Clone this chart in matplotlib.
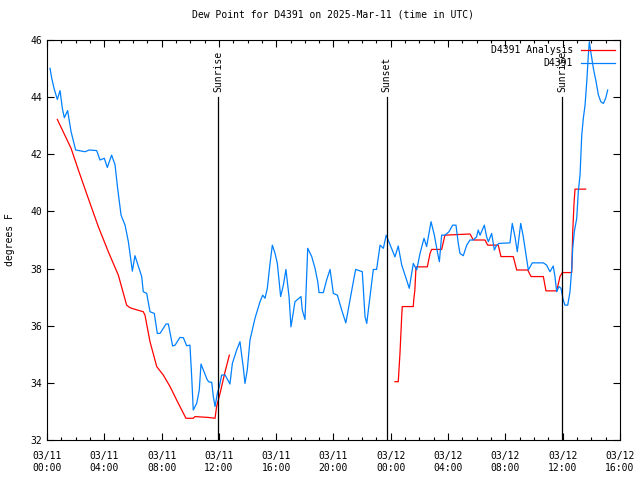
import numpy as np
import pandas as pd
import matplotlib
matplotlib.use("Agg")
import matplotlib.pyplot as plt
import matplotlib.dates as mdates

# hours after 2025-03-11 00:00 UTC, dew point in F
obs_hours = [0.21, 0.33, 0.49, 0.72, 0.91, 1.07, 1.21, 1.44, 1.68, 2.0, 2.65, 2.95, 3.47, 3.70,
             4.0, 4.21, 4.51, 4.75, 4.93, 5.17, 5.45, 5.68, 5.96, 6.14, 6.61, 6.72, 6.96, 7.19,
             7.49, 7.70, 7.89, 8.31, 8.47, 8.77, 8.94, 9.28, 9.52, 9.75, 9.98, 10.1, 10.21, 10.45,
             10.63, 10.75, 10.96, 11.19, 11.31, 11.5, 11.61, 11.73, 11.89, 12.03, 12.19, 12.43,
             12.77, 12.94, 13.24, 13.47, 13.71, 13.82, 13.98, 14.17, 14.52, 14.87, 15.06, 15.22,
             15.38, 15.57, 15.73, 15.92, 16.08, 16.31, 16.5, 16.68, 16.9, 17.03, 17.13, 17.31,
             17.73, 17.82, 18.01, 18.2, 18.48, 18.71, 18.9, 18.99, 19.29, 19.52, 19.76, 19.99,
             20.27, 20.57, 20.86, 21.15, 21.45, 21.55, 22.01, 22.2, 22.32, 22.55, 22.78, 23.01,
             23.25, 23.48, 23.68, 23.91, 24.29, 24.52, 24.76, 25.06, 25.29, 25.57, 25.81, 26.04,
             26.32, 26.5, 26.81, 27.04, 27.25, 27.39, 27.55, 27.78, 28.06, 28.32, 28.55, 28.71,
             28.83, 29.06, 29.3, 29.53, 29.76, 29.99, 30.1, 30.23, 30.53, 30.69, 30.81, 31.04,
             31.23, 31.39, 31.55, 32.32, 32.48, 32.67, 32.83, 33.07, 33.25, 33.37, 33.49, 33.6,
             33.88, 34.65, 34.88, 35.11, 35.34, 35.46, 35.58, 35.74, 35.88, 36.04, 36.16, 36.35,
             36.51, 36.63, 36.7, 36.81, 36.98, 37.09, 37.21, 37.33, 37.44, 37.56, 37.68, 37.79,
             37.86, 37.96, 38.14, 38.33, 38.49, 38.66, 38.84, 39.0, 39.14]
obs_dewpt = [45.01, 44.66, 44.31, 43.92, 44.23, 43.61, 43.28, 43.53, 42.79, 42.15, 42.09, 42.15,
             42.13, 41.8, 41.86, 41.54, 41.97, 41.63, 40.81, 39.87, 39.52, 38.94, 37.91, 38.45,
             37.72, 37.19, 37.13, 36.49, 36.43, 35.73, 35.73, 36.06, 36.06, 35.29, 35.32, 35.59,
             35.58, 35.30, 35.32, 34.22, 33.05, 33.28, 33.75, 34.66, 34.39, 34.1, 34.03, 34.02,
             33.52, 33.17, 33.63, 33.87, 34.27, 34.28, 33.96, 34.68, 35.15, 35.44, 34.51, 33.98,
             34.45, 35.5, 36.26, 36.84, 37.07, 36.96, 37.31, 38.18, 38.82, 38.53, 38.18, 37.02,
             37.42, 37.97, 37.0, 35.96, 36.26, 36.84, 37.02, 36.55, 36.22, 38.71, 38.42, 38.01,
             37.54, 37.16, 37.16, 37.6, 37.97, 37.13, 37.07, 36.55, 36.1, 36.9, 37.72, 37.97,
             37.89, 36.32, 36.08, 37.02, 37.97, 37.97, 38.82, 38.71, 39.17, 38.88, 38.41, 38.79,
             38.13, 37.66, 37.31, 38.18, 37.95, 38.53, 39.06, 38.77, 39.64, 39.17, 38.59, 38.24,
             39.17, 39.17, 39.29, 39.52, 39.52, 38.88, 38.53, 38.45, 38.82, 39.0, 39.0, 39.11,
             39.35, 39.17, 39.52, 39.11, 38.94, 39.23, 38.65, 38.82, 38.88, 38.9, 39.58, 39.11,
             38.59, 39.58, 39.11, 38.71, 38.3, 37.95, 38.2, 38.2, 38.12, 37.89, 38.09, 37.72,
             37.19, 37.37, 37.31, 36.9, 36.72, 36.72, 37.19, 38.0, 38.71, 39.29, 39.76, 40.69,
             41.28, 42.67, 43.26, 43.72, 44.54, 45.47, 45.94, 45.59, 45.01, 44.54, 44.08, 43.84,
             43.78, 43.96, 44.25]

# analysis series, NaN marks the gap
ana_hours = [0.72, 1.68, 2.19, 2.88, 3.58, 4.28, 4.98, 5.56, 5.79, 6.1, 6.72, 6.84, 7.19, 7.66,
             8.12, 8.59, 9.05, 9.7, 10.21, 10.33, 11.26, 11.73, 11.84, 12.08, 12.43, 12.73,
             18.0,
             24.29, 24.52, 24.64, 24.76, 24.80, 25.57, 25.60, 25.68, 25.76, 26.55, 26.74, 26.85,
             27.55, 27.78, 29.53, 29.76, 30.58, 30.76, 31.5, 31.69, 32.55, 32.79, 33.56, 33.79,
             34.65, 34.83, 35.58, 35.81, 35.97, 36.63, 36.7, 36.79, 36.86, 37.6]
ana_dewpt = [43.22, 42.21, 41.45, 40.46, 39.47, 38.59, 37.77, 36.72, 36.63, 36.58, 36.49, 36.37,
             35.44, 34.57, 34.27, 33.87, 33.4, 32.76, 32.76, 32.82, 32.79, 32.76, 33.17, 33.63,
             34.39, 34.97,
             np.nan,
             34.04, 34.04, 35.03, 36.32, 36.67, 36.67, 36.9, 37.25, 38.06, 38.06, 38.53, 38.67,
             38.67, 39.17, 39.21, 39.0, 39.0, 38.82, 38.82, 38.42, 38.42, 37.95, 37.95, 37.72,
             37.72, 37.22, 37.22, 37.72, 37.86, 37.86, 39.29, 40.28, 40.78, 40.78]

sun_hours = [11.96, 23.70, 35.97]
sun_labels = ["Sunrise", "Sunset", "Sunrise"]

start = pd.Timestamp("2025-03-11 00:00")
def to_time(hours):
    return start + pd.to_timedelta(np.asarray(hours, dtype=float), unit="h")

plt.rcParams["font.family"] = "DejaVu Sans Mono"
plt.rcParams["font.size"] = 7

fig = plt.figure(figsize=(6.4, 4.8), dpi=100)
ax = fig.add_axes([47 / 640, 40 / 480, 573 / 640, 400 / 480])

ax.plot(to_time(ana_hours), ana_dewpt, color="#ff0000", lw=0.9, label="D4391 Analysis")
ax.plot(to_time(obs_hours), obs_dewpt, color="#0080ff", lw=0.9, label="D4391")

for h, lab in zip(sun_hours, sun_labels):
    t = to_time([h])[0]
    ax.plot([t, t], [32, 44], color="black", lw=0.9)
    ax.text(t, 44.18, lab, rotation=90, ha="center", va="bottom", fontsize=7)

ax.set_xlim(to_time([0])[0], to_time([40])[0])
ax.set_ylim(32, 46)
ax.set_yticks(np.arange(32, 47, 2))
ax.xaxis.set_major_locator(mdates.HourLocator(byhour=range(0, 24, 4)))
ax.xaxis.set_minor_locator(mdates.HourLocator())
ax.xaxis.set_major_formatter(mdates.DateFormatter("%m/%d\n%H:%M"))
ax.tick_params(which="both", direction="in", top=True, right=True, labelsize=7, width=0.8)
ax.tick_params(which="major", length=5)
ax.tick_params(which="minor", length=2.5)
ax.tick_params(axis="x", pad=8)

ax.set_ylabel("degrees F", fontsize=7, labelpad=11)
ax.set_title("Dew Point for D4391 on 2025-Mar-11 (time in UTC)", fontsize=7, pad=16)

ax.legend(loc="upper right", frameon=False, markerfirst=False, fontsize=7,
          handlelength=3.5, borderaxespad=0.15, labelspacing=0.3)

fig.savefig("out.png", dpi=100)
